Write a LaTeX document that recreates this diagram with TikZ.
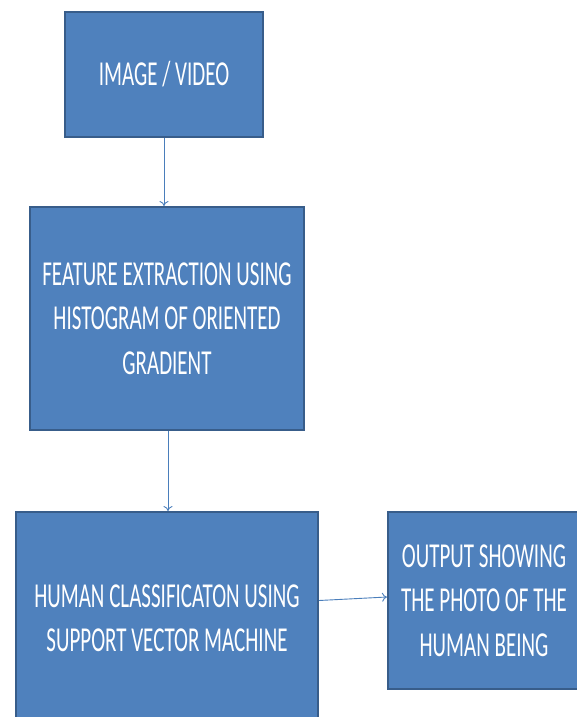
\documentclass[tikz,border=0pt]{standalone}
\usepackage{fontspec}
\usetikzlibrary{arrows.meta}
\setmainfont[FakeStretch=0.6]{Carlito}
\definecolor{boxfill}{HTML}{4F81BD}
\definecolor{boxedge}{HTML}{385D8A}
\definecolor{linkcol}{HTML}{4A7EBB}
\tikzset{
  stage/.style={draw=boxedge, line width=2pt, fill=boxfill, text=white,
    align=center, inner sep=0pt, font=\fontsize{35}{44.5}\selectfont},
  link/.style={draw=linkcol, line width=0.9pt, -{To[length=5pt,width=9pt]}}
}
\begin{document}
\begin{tikzpicture}[x=1pt,y=-1pt]
  \useasboundingbox (0,0) rectangle (577,717);
  \clip (0,0) rectangle (577,717);
  \node[stage, minimum width=198pt, minimum height=125pt] (input) at (164,74.5) {IMAGE / VIDEO};
  \node[stage, minimum width=274pt, minimum height=223pt] (hog) at (167,318.5)
    {FEATURE EXTRACTION USING\\HISTOGRAM OF ORIENTED\\GRADIENT};
  \node[stage, minimum width=302pt, minimum height=213pt] (svm) at (167,618.5)
    {HUMAN CLASSIFICATON USING\\SUPPORT VECTOR MACHINE};
  \node[stage, minimum width=192pt, minimum height=177pt] (out) at (484,600.5)
    {OUTPUT SHOWING\\THE PHOTO OF THE\\HUMAN BEING};
  \draw[link] (input.south) -- (input.south |- hog.north);
  \draw[link] ([xshift=1pt]hog.south) -- ([xshift=1pt]hog.south |- svm.north);
  \draw[link] (svm.east |- out.west) -- ([yshift=3.5pt]out.west);
\end{tikzpicture}
\end{document}
